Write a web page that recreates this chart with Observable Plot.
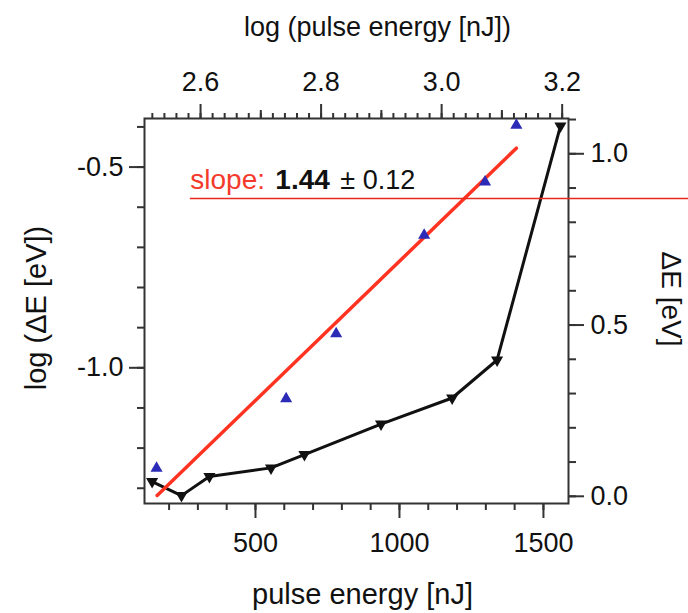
<!DOCTYPE html>
<html><head><meta charset="utf-8">
<script src="https://cdn.jsdelivr.net/npm/d3@7"></script>
<script src="https://cdn.jsdelivr.net/npm/@observablehq/plot@0.6"></script>
<style>
html,body{margin:0;padding:0;background:#fff;}
#chart{position:relative;width:688px;height:613px;}
#chart svg{position:absolute;left:0;top:0;}
</style></head><body><div id="chart"></div>
<script>
// Black series: pulse energy [nJ] (bottom axis) vs ΔE [eV] (right axis)
const pulseEnergy = [141, 243, 340, 554, 670, 936, 1183, 1339, 1559];
const deltaE = [0.043, 0.002, 0.058, 0.083, 0.122, 0.211, 0.287, 0.398, 1.081];
// Blue series: log(pulse energy) (top axis) vs log(ΔE) (left axis)
const logPulse = [2.527, 2.742, 2.825, 2.971, 3.072, 3.124];
const logDeltaE = [-1.250, -1.077, -0.915, -0.670, -0.537, -0.396];
// Linear fit in log-log space
const fitLogPulse = [2.528, 3.124];
const fitLogDeltaE = [-1.318, -0.453];
// Annotation
const slopeParts = ["slope:", "1.44", "± 0.12"];
const annotationAnchor = [{x: 2.583, y: -0.5556}];
const annotationLine = [{x1: 2.583, x2: 3.42, y: -0.578}];
// Tick labels
const bottomTicks = [500, 1000, 1500];
const topTicks = [2.6, 2.8, 3.0, 3.2];
const leftTicks = [-0.5, -1.0];
const rightTicks = [0.0, 0.5, 1.0];
// Titles
const titleBottom = "pulse energy [nJ]";
const titleTop = "log (pulse energy [nJ])";
const titleLeft = "log (ΔE [eV])";
const titleRight = "ΔE [eV]";

const W = 688, H = 613;
const M = {marginTop: 118, marginRight: 120, marginBottom: 110, marginLeft: 144};
const FONT = "'Liberation Sans', Arial, Helvetica, sans-serif";
const FS = 27;
const FT = 29;
const TICK = "#333";
const TXT = "#111";
const fmt1 = d => d.toFixed(1);
const none = () => "";

const black = pulseEnergy.map((x, i) => ({x, y: deltaE[i]}));
const blue = logPulse.map((x, i) => ({x, y: logDeltaE[i]}));
const fit = fitLogPulse.map((x, i) => ({x, y: fitLogDeltaE[i]}));

const baseStyle = {background: "transparent", fontFamily: FONT, color: TXT, overflow: "visible"};

const p1 = Plot.plot({
  width: W, height: H, ...M,
  style: baseStyle,
  x: {domain: [114.6, 1587]},
  y: {domain: [-0.021, 1.103]},
  marks: [
    Plot.axisX(d3.range(2, 16).map(i => i * 100), {anchor: "bottom", tickSize: 7, tickFormat: none, label: null, stroke: TICK, strokeWidth: 2}),
    Plot.axisX(bottomTicks, {anchor: "bottom", tickSize: 15, tickPadding: 14, tickFormat: d => String(d), fontSize: FS, fill: TXT, label: null, stroke: TICK, strokeWidth: 2}),
    Plot.axisY(d3.range(0, 12).map(i => i / 10), {anchor: "right", tickSize: 7, tickFormat: none, label: null, stroke: TICK, strokeWidth: 2}),
    Plot.axisY(rightTicks, {anchor: "right", tickSize: 15, tickPadding: 7, tickFormat: fmt1, fontSize: FS, fill: TXT, label: null, stroke: TICK, strokeWidth: 2}),
    Plot.frame({stroke: TICK, strokeWidth: 2}),
    Plot.line(black, {x: "x", y: "y", stroke: "#111", strokeWidth: 3}),
    Plot.dot(black, {x: "x", y: "y", symbol: "triangle", rotate: 180, fill: "#111", r: 4.5}),
    Plot.text([titleBottom], {frameAnchor: "bottom", lineAnchor: "bottom", dx: 6, dy: 100, fontSize: FT, fill: TXT}),
    Plot.text([titleRight], {frameAnchor: "right", rotate: 90, lineAnchor: "middle", textAnchor: "middle", dx: 102, dy: -12, fontSize: 28, fill: TXT})
  ]
});

const p2 = Plot.plot({
  width: W, height: H, ...M,
  style: baseStyle,
  x: {domain: [2.507, 3.2105]},
  y: {domain: [-1.338, -0.379]},
  marks: [
    Plot.axisX(d3.range(126, 161).map(i => i / 50), {anchor: "top", tickSize: 6, tickFormat: none, label: null, stroke: TICK, strokeWidth: 2}),
    Plot.axisX([2.7, 2.9, 3.1], {anchor: "top", tickSize: 9, tickFormat: none, label: null, stroke: TICK, strokeWidth: 2}),
    Plot.axisX(topTicks, {anchor: "top", tickSize: 15, tickPadding: 13, tickFormat: fmt1, fontSize: FS, fill: TXT, label: null, stroke: TICK, strokeWidth: 2}),
    Plot.axisY(d3.range(-13, -3).map(i => i / 10), {anchor: "left", tickSize: 7, tickFormat: none, label: null, stroke: TICK, strokeWidth: 2}),
    Plot.axisY(leftTicks, {anchor: "left", tickSize: 15, tickPadding: 6, tickFormat: fmt1, fontSize: FS, fill: TXT, label: null, stroke: TICK, strokeWidth: 2}),
    Plot.line(fit, {x: "x", y: "y", stroke: "#ff3322", strokeWidth: 3.5}),
    Plot.dot(blue, {x: "x", y: "y", symbol: "triangle", fill: "#2b2bb8", r: 4.5}),
    Plot.ruleY(annotationLine, {y: "y", x1: "x1", x2: "x2", stroke: "#e8281c", strokeWidth: 1.5}),
    Plot.text(annotationAnchor, {x: "x", y: "y", text: () => slopeParts[0], textAnchor: "start", lineAnchor: "bottom", fontSize: 28, fill: "#f53a2c"}),
    Plot.text(annotationAnchor, {x: "x", y: "y", text: () => slopeParts[1], textAnchor: "start", lineAnchor: "bottom", dx: 85, fontSize: 28, fontWeight: "bold", fill: TXT}),
    Plot.text(annotationAnchor, {x: "x", y: "y", text: () => slopeParts[2], textAnchor: "start", lineAnchor: "bottom", dx: 150, fontSize: FS, fill: TXT}),
    Plot.text([titleTop], {frameAnchor: "top", lineAnchor: "bottom", dx: 21, dy: -83, fontSize: FS, fill: TXT}),
    Plot.text([titleLeft], {frameAnchor: "left", rotate: -90, lineAnchor: "middle", textAnchor: "middle", dx: -108, dy: -3, fontSize: FT, fill: TXT})
  ]
});

const el = document.getElementById("chart");
el.appendChild(p1);
el.appendChild(p2);
</script></body></html>
